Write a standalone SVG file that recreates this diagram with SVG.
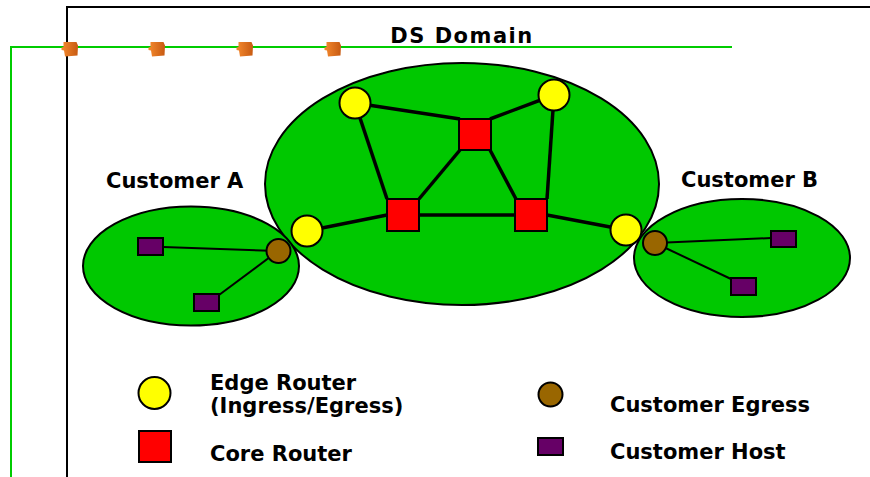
<svg xmlns="http://www.w3.org/2000/svg" width="870" height="477" viewBox="0 0 870 477">
  <defs>
    <linearGradient id="tag" x1="0" y1="0" x2="1" y2="0">
      <stop offset="0" stop-color="#F58A2E"/>
      <stop offset="1" stop-color="#C75A12"/>
    </linearGradient>
    <path id="tagShape" d="M-6.5,-6 L6.5,-6 L8,-2.5 L7.5,7.5 L-5,8.5 L-6,2.5 L-8.5,2 L-8.5,-0.5 L-6.5,-1 Z"/>
  </defs>
  <style>
    .lbl { font-family: "DejaVu Sans", Verdana, sans-serif; font-weight: bold; font-size: 21px; fill: #000; }
    .title { letter-spacing: 1.5px; }
    .cloud { fill: #00C800; stroke: #000; stroke-width: 2; }
    .edge { fill: #FFFF00; stroke: #000; stroke-width: 2; }
    .core { fill: #FF0000; stroke: #000; stroke-width: 2; }
    .egress { fill: #996600; stroke: #000; stroke-width: 2; }
    .host { fill: #660066; stroke: #000; stroke-width: 2; }
    .trunk { stroke: #000; stroke-width: 3.5; fill: none; }
    .access { stroke: #000; stroke-width: 2; fill: none; }
    .frame { stroke: #000; stroke-width: 2; fill: none; }
    .wire { stroke: #00CC00; stroke-width: 2; fill: none; }
  </style>

  <!-- outer frame and green boundary wire -->
  <g id="frame">
    <polyline class="frame" points="67,477 67,7 870,7"/>
    <polyline class="wire" points="11,477 11,47 732,47"/>
    <use href="#tagShape" x="70" y="48" fill="url(#tag)"/>
    <use href="#tagShape" x="157" y="48" fill="url(#tag)"/>
    <use href="#tagShape" x="245" y="48" fill="url(#tag)"/>
    <use href="#tagShape" x="333" y="48" fill="url(#tag)"/>
  </g>

  <!-- domains -->
  <g id="ds-domain">
    <ellipse class="cloud" cx="462" cy="184" rx="197" ry="121"/>
    <text class="lbl title" x="462" y="43" text-anchor="middle">DS Domain</text>
  </g>
  <g id="customer-a">
    <ellipse class="cloud" cx="191" cy="266" rx="108" ry="59.5"/>
    <text class="lbl" x="106" y="188">Customer A</text>
  </g>
  <g id="customer-b">
    <ellipse class="cloud" cx="742" cy="258" rx="108" ry="59"/>
    <text class="lbl" x="681" y="187">Customer B</text>
  </g>

  <!-- links -->
  <g id="connectors">
    <line class="trunk" x1="355" y1="103" x2="460" y2="119"/>
    <line class="trunk" x1="554" y1="95" x2="490" y2="119"/>
    <line class="trunk" x1="355" y1="103" x2="387" y2="199"/>
    <line class="trunk" x1="554" y1="95" x2="547" y2="199"/>
    <line class="trunk" x1="460" y1="150" x2="419" y2="199"/>
    <line class="trunk" x1="490" y1="150" x2="516" y2="199"/>
    <line class="trunk" x1="387" y1="215" x2="547" y2="215"/>
    <line class="trunk" x1="307" y1="231" x2="387" y2="215"/>
    <line class="trunk" x1="547" y1="215" x2="626" y2="230"/>
    <line class="access" x1="278" y1="251" x2="163" y2="247"/>
    <line class="access" x1="278" y1="251" x2="219" y2="295"/>
    <line class="access" x1="655" y1="243" x2="771" y2="238"/>
    <line class="access" x1="655" y1="243" x2="731" y2="279"/>
  </g>

  <!-- edge routers -->
  <g id="edge-nw"><circle class="edge" cx="355" cy="103" r="15.5"/></g>
  <g id="edge-ne"><circle class="edge" cx="554" cy="95" r="15.5"/></g>
  <g id="edge-w"><circle class="edge" cx="307" cy="231" r="15.5"/></g>
  <g id="edge-e"><circle class="edge" cx="626" cy="230" r="15.5"/></g>

  <!-- core routers -->
  <g id="core-top"><rect class="core" x="459" y="119" width="32" height="31"/></g>
  <g id="core-left"><rect class="core" x="387" y="199" width="32" height="32"/></g>
  <g id="core-right"><rect class="core" x="515" y="199" width="32" height="32"/></g>

  <!-- customer egress points -->
  <g id="egress-a"><circle class="egress" cx="278.5" cy="251" r="12"/></g>
  <g id="egress-b"><circle class="egress" cx="655" cy="243" r="12"/></g>

  <!-- customer hosts -->
  <g id="host-a1"><rect class="host" x="138" y="238" width="25" height="17"/></g>
  <g id="host-a2"><rect class="host" x="194" y="294" width="25" height="17"/></g>
  <g id="host-b1"><rect class="host" x="771" y="231" width="25" height="16"/></g>
  <g id="host-b2"><rect class="host" x="731" y="278" width="25" height="17"/></g>

  <!-- key -->
  <g id="legend-edge">
    <circle class="edge" cx="154.5" cy="393" r="16"/>
    <text class="lbl" x="210" y="390">Edge Router</text>
    <text class="lbl" x="210" y="413">(Ingress/Egress)</text>
  </g>
  <g id="legend-core">
    <rect class="core" x="139" y="431" width="32" height="31"/>
    <text class="lbl" x="210" y="461">Core Router</text>
  </g>
  <g id="legend-egress">
    <circle class="egress" cx="550.5" cy="394.5" r="12"/>
    <text class="lbl" x="610" y="412">Customer Egress</text>
  </g>
  <g id="legend-host">
    <rect class="host" x="538" y="438" width="25" height="17"/>
    <text class="lbl" x="610" y="459">Customer Host</text>
  </g>
</svg>
